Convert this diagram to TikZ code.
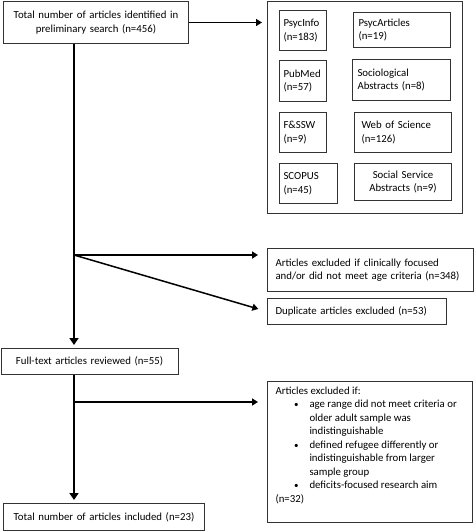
\documentclass[tikz,border=0pt]{standalone}
\usepackage{fontspec}
\setmainfont{Carlito}
\usepackage{enumitem}
\usetikzlibrary{arrows.meta}

\tikzset{
  box/.style={draw=black!80, line width=1pt, anchor=north west, inner ysep=0pt,
    inner xsep=5pt, align=center, font=\fontsize{10.8}{13.5}\selectfont},
  dbbox/.style={box, align=left},
  flow/.style={line width=2.2pt, -{Triangle[width=9pt,length=7pt]}, shorten >=3pt},
  link/.style={line width=1.5pt, -{Triangle[width=7pt,length=6pt]}, shorten >=9pt},
}

\begin{document}
\begin{tikzpicture}[x=1pt, y=-1pt]
      \useasboundingbox (0,0) rectangle (474,532);
      % Search
      \node[box, text width=181pt, inner xsep=2pt, minimum height=42pt] (search) at (3,1)
        {Total number of articles identified in\\preliminary search (n=456)};
      % - Databases
      \node[box, minimum width=195pt, minimum height=212pt, inner sep=0pt] (dbs) at (267,1) {};
      \node[dbbox, text width=39pt, inner xsep=4pt, minimum height=40pt] (psycinfo) at (279,10) {PsycInfo\\(n=183)};
      \node[dbbox, text width=87pt, minimum height=35pt] (psycart) at (353,12) {PsycArticles\\(n=19)};
      \node[dbbox, text width=39pt, inner xsep=4pt, minimum height=41pt] (pubmed) at (279,60) {PubMed\\(n=57)};
      \node[dbbox, text width=88pt, minimum height=41pt] (socio) at (352,59) {Sociological\\Abstracts (n=8)};
      \node[dbbox, text width=39pt, inner xsep=4pt, minimum height=40pt] (fssw) at (279,112) {F\&SSW\\(n=9)};
      \node[dbbox, text width=83pt, inner xsep=7pt, minimum height=40pt] (wos) at (354,112) {Web of Science\\(n=126)};
      \node[dbbox, text width=50pt, inner xsep=4pt, minimum height=40pt] (scopus) at (279,163) {SCOPUS\\(n=45)};
      \node[box, text width=89pt, inner xsep=4pt, minimum height=37pt] (ssa) at (354,163) {Social Service\\Abstracts (n=9)};
      \draw[link, line width=1.8pt, shorten >=5pt] (search.east) -- (dbs.west |- search.east);

      % Screening
      \coordinate (split1) at (74,255);
      \node[dbbox, text width=190pt, inner xsep=8pt, minimum height=43pt] (clinical) at (267,248)
        {Articles excluded if clinically focused\\and/or did not meet age criteria (n=348)};
      \node[dbbox, text width=163pt, inner xsep=8pt, minimum height=26pt] (dup) at (267,298)
        {Duplicate articles excluded (n=53)};
      \node[box, text width=167pt, minimum height=26pt] (full) at (0.5,348)
        {Full-text articles reviewed (n=55)};
      \draw[flow] (search.south -| split1) -- (full.north -| split1);
      \draw[link] (split1) -- (clinical.west |- split1);
      \draw[link] (split1) -- (dup.west);

      % Eligibility
      \coordinate (split2) at (74,402);
      \node[box, inner xsep=8pt, inner ysep=5pt, align=left] (criteria) at (267,381)
        {\begin{minipage}[t][131pt][t]{189pt}
         Articles excluded if:
         \begin{itemize}[label={\small\textbullet}, leftmargin=34pt, labelsep=11pt,
           itemsep=0pt, topsep=0pt, parsep=0pt, partopsep=0pt]
           \item age range did not meet criteria or\\older adult sample was\\indistinguishable
           \item defined refugee differently or\\indistinguishable from larger\\sample group
           \item deficits-focused research aim
         \end{itemize}
         (n=32)
         \end{minipage}};
      \node[box, text width=191pt, minimum height=27pt] (final) at (3,503)
        {Total number of articles included (n=23)};
      \draw[flow] (full.south -| split2) -- (final.north -| split2);
      \draw[link] (split2) -- (criteria.west |- split2);
\end{tikzpicture}
\end{document}
